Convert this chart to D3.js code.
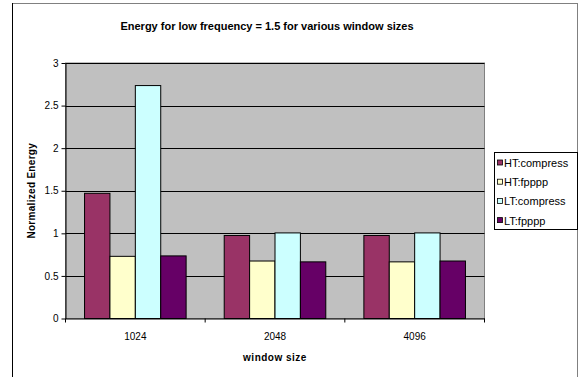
<!DOCTYPE html>
<html><head><meta charset="utf-8">
<script src="https://cdn.jsdelivr.net/npm/d3@7"></script>
<style>body{margin:0;background:#fff}svg{display:block;font-family:Arial,"Liberation Sans",sans-serif}</style>
</head><body><svg id="c" width="579" height="377"></svg>
<script>
const categories = ["1024", "2048", "4096"];
const seriesNames = ["HT:compress", "HT:fpppp", "LT:compress", "LT:fpppp"];
const htCompress = [1.47, 0.975, 0.975];
const htFpppp = [0.73, 0.675, 0.665];
const ltCompress = [2.735, 1.005, 1.005];
const ltFpppp = [0.735, 0.665, 0.675];
const colors = ["#993366", "#FFFFCC", "#CCFFFF", "#660066"];
const yTicks = [0, 0.5, 1, 1.5, 2, 2.5, 3];
const series = [htCompress, htFpppp, ltCompress, ltFpppp];

const svg = d3.select("#c");
// outer frame
svg.append("line").attr("x1",12).attr("x2",578).attr("y1",3.5).attr("y2",3.5).attr("stroke","#808080");
svg.append("line").attr("x1",577.5).attr("x2",577.5).attr("y1",3).attr("y2",377).attr("stroke","#808080");
svg.append("line").attr("x1",12.5).attr("x2",12.5).attr("y1",3).attr("y2",377).attr("stroke","#000");

const L=65.5, R=484.5, T=63, B=318.5;
const x = d3.scaleBand().domain(categories).range([L,R]);
const bw = x.bandwidth()/(4+1.5);
const y = d3.scaleLinear().domain([0,3]).range([B,T]);

svg.append("rect").attr("x",L).attr("y",T).attr("width",R-L).attr("height",B-T)
  .attr("fill","#C0C0C0").attr("stroke","#808080");
svg.append("g").selectAll("line").data(yTicks.slice(1)).join("line")
  .attr("x1",L).attr("x2",R).attr("y1",d=>Math.round(y(d))+0.5).attr("y2",d=>Math.round(y(d))+0.5).attr("stroke","#000");

// bars
categories.forEach((c,i)=>{
  series.forEach((s,k)=>{
    const x0 = x(c) + bw*0.75 + k*bw;
    svg.append("rect").attr("x",x0).attr("y",y(s[i])).attr("width",bw).attr("height",B-y(s[i]))
      .attr("fill",colors[k]).attr("stroke","#000").attr("stroke-width",1);
  });
});

// y axis
const ya = d3.axisLeft(y).tickValues(yTicks).tickSize(4).tickSizeOuter(0).tickFormat(d=>String(d));
const yg = svg.append("g").attr("transform",`translate(${L},0)`).call(ya);
yg.select(".domain").attr("stroke","#000");
yg.selectAll("text").attr("font-size",10).attr("fill","#000").attr("font-family","Arial,'Liberation Sans'");
// x axis
const xa = d3.axisBottom(x).tickSize(0).tickSizeOuter(0);
const xg = svg.append("g").attr("transform",`translate(0,${B})`).call(xa);
xg.select(".domain").attr("stroke","#000");
xg.selectAll("text").attr("font-size",10).attr("fill","#000").attr("dy","1.85em").attr("font-family","Arial,'Liberation Sans'");
const bounds = categories.map(c=>x(c)).concat([R]);
xg.selectAll("line.sep").data(bounds).join("line").attr("class","sep")
  .attr("x1",d=>d).attr("x2",d=>d).attr("y1",0).attr("y2",4).attr("stroke","#000");

// title & labels
svg.append("text").attr("x",267).attr("y",30).attr("text-anchor","middle").attr("font-size",11)
  .attr("font-weight","bold").text("Energy for low frequency = 1.5 for various window sizes");
svg.append("text").attr("x",275).attr("y",361).attr("text-anchor","middle").attr("font-size",10)
  .attr("font-weight","bold").attr("letter-spacing","0.5").text("window size");
svg.append("text").attr("transform",`translate(35,${(T+B)/2}) rotate(-90)`).attr("text-anchor","middle")
  .attr("font-size",10).attr("font-weight","bold").attr("letter-spacing","0.3").text("Normalized Energy");

// legend
const lg = svg.append("g");
lg.append("rect").attr("x",494.5).attr("y",152.5).attr("width",83).attr("height",77)
  .attr("fill","#fff").attr("stroke","#000");
seriesNames.forEach((n,k)=>{
  const cy = 163 + k*19.2;
  lg.append("rect").attr("x",497.5).attr("y",cy-3).attr("width",5).attr("height",5)
    .attr("fill",colors[k]).attr("stroke","#000").attr("stroke-width",0.8);
  lg.append("text").attr("x",504).attr("y",cy+4).attr("font-size",11).text(n);
});
</script></body></html>
